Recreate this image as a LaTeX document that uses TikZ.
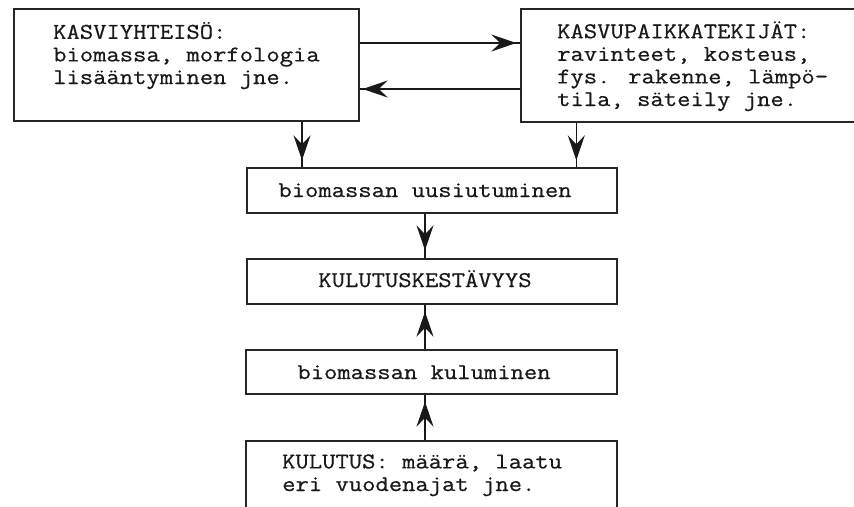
\documentclass[tikz,border=0pt]{standalone}
\usepackage{fontspec}
\newfontfamily\courfont[FakeStretch=1.15,FakeBold=0.6]{Latin Modern Mono}
\usetikzlibrary{arrows.meta,calc}
\begin{document}
\begin{tikzpicture}[x=1pt,y=-1pt,
  box/.style={draw=black!85, line width=1.4pt, inner sep=0pt, rectangle},
  txt/.style={inner sep=0pt, text=black!90, font=\courfont\fontsize{22.5}{22.6}\selectfont, align=left},
  arr/.style={draw=black!90, line width=1.5pt,
    postaction={draw=black!90, line width=1.5pt, -{Stealth[length=25pt,width=17pt,inset=9pt]}, shorten >=#1}},
  arr/.default=7pt]
\useasboundingbox (0,0) rectangle (854,506);
\fill[white] (0,0) rectangle (854,506);
\clip (0,0) rectangle (854,506);

% boxes (image coordinates, y downward)
\node[box, minimum width=345pt, minimum height=112pt] (b1) at (186.5,65) {};
\node[box, minimum width=359pt, minimum height=113pt] (b2) at (700.5,65.5) {};
\node[box, minimum width=370pt, minimum height=45pt] (b3) at (432,190.5) {};
\node[box, minimum width=370pt, minimum height=45pt] (b4) at (432,281.5) {};
\node[box, minimum width=371pt, minimum height=44pt] (b5) at (431.5,372) {};
\node[box, minimum width=371pt, minimum height=90pt] (b6) at (431.5,486) {};

% texts (multi-line nodes: base = baseline of last line)
\node[txt, anchor=base west] (t1) at (53,84) {KASVIYHTEISÖ:\\biomassa, morfologia\\lisääntyminen jne.};
\node[txt, anchor=base west] (t2) at (557,106) {KASVUPAIKKATEKIJÄT:\\ravinteet, kosteus,\\fys. rakenne, lämpö-\\tila, säteily jne.};
\node[txt, anchor=base] (t3) at (425,197) {biomassan uusiutuminen};
\node[txt, anchor=base] (t4) at (425,287) {KULUTUSKESTÄVYYS};
\node[txt, anchor=base] (t5) at (424,379) {biomassan kuluminen};
\node[txt, anchor=base west] (t6) at (282,491) {KULUTUS: määrä, laatu\\eri vuodenajat jne.};

% connectors
\draw[arr=4pt] ([yshift=22pt]b1.east) -- ([yshift=22pt]b1.east -| b2.west);
\draw[arr=3pt] ([yshift=-23.5pt]b2.west) -- ([yshift=-23.5pt]b2.west -| b1.east);
\draw[arr] ([xshift=115.5pt]b1.south) -- ([xshift=115.5pt]b1.south |- b3.north);
\draw[arr] ([xshift=56pt]b2.south west) -- ([xshift=56pt]b2.south west |- b3.north);
\draw[arr=8pt] ([xshift=-7pt]b3.south) -- ([xshift=-7pt]b4.north);
\draw[arr] ([xshift=-6.5pt]b5.north) -- ([xshift=-6.5pt]b5.north |- b4.south);
\draw[arr] ([xshift=-6.5pt]b6.north) -- ([xshift=-6.5pt]b5.south);
\end{tikzpicture}
\end{document}
